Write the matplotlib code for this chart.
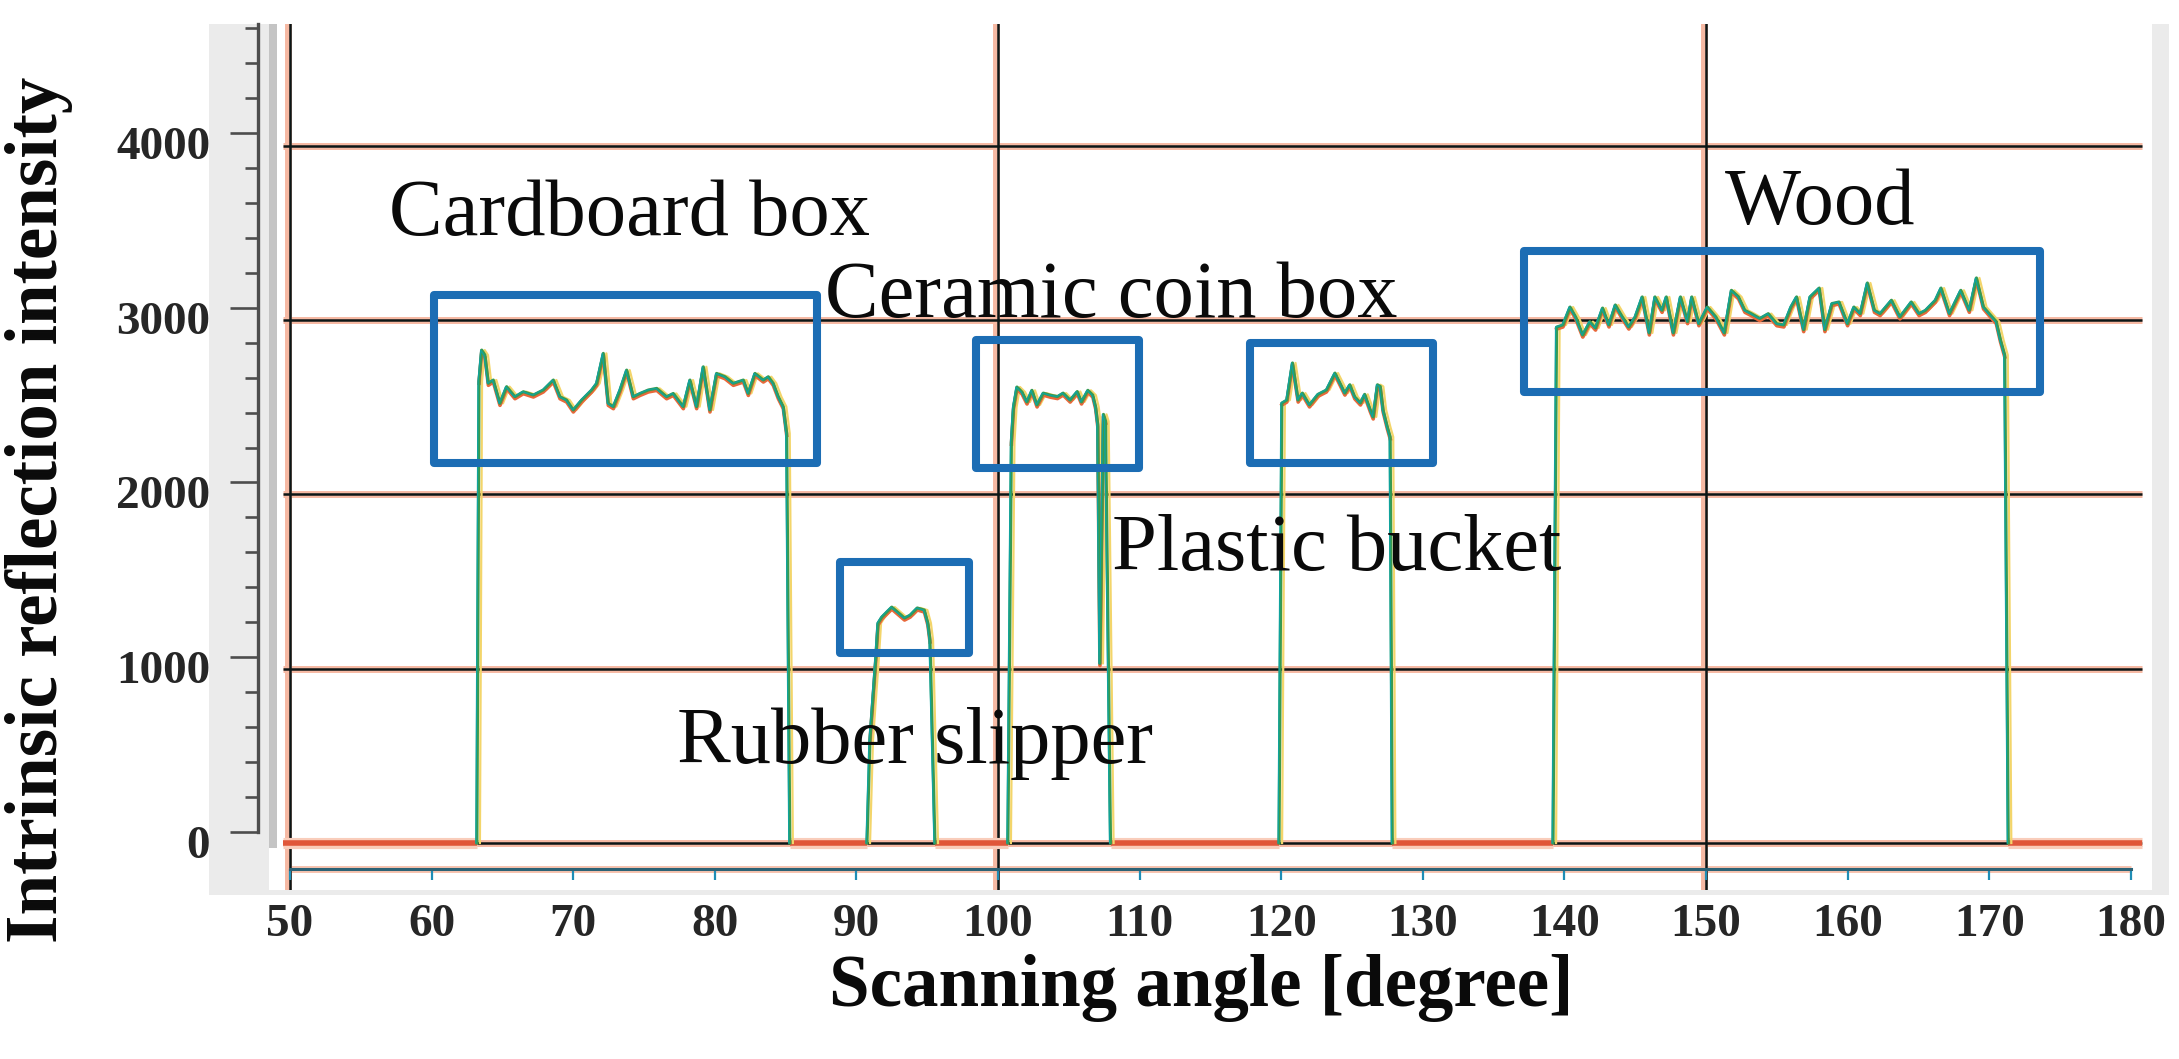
import numpy as np
import matplotlib
matplotlib.use("Agg")
import matplotlib.pyplot as plt
from matplotlib.patches import Rectangle
from matplotlib.transforms import ScaledTranslation
from matplotlib.ticker import MultipleLocator

plt.rcParams["font.family"] = ["Liberation Serif", "DejaVu Serif"]

# ---------------- data ----------------
scan_start, scan_end = 49.5, 180.8

cardboard_angle = [63.20, 63.35, 63.54, 63.77, 64.01, 64.36, 64.83, 65.30, 65.89, 66.48,
                   67.19, 67.89, 68.60, 69.07, 69.54, 70.01, 70.60, 71.31, 71.66, 72.13,
                   72.48, 72.84, 73.31, 73.78, 74.25, 74.72, 75.31, 75.90, 76.60, 77.07,
                   77.78, 78.25, 78.72, 79.19, 79.66, 80.13, 80.72, 81.31, 82.02, 82.37,
                   82.84, 83.43, 83.78, 84.13, 84.49, 84.84, 85.08, 85.30]
cardboard_value = [0, 2650, 2829, 2800, 2638, 2657, 2523, 2619, 2561, 2590,
                   2571, 2600, 2657, 2561, 2542, 2485, 2542, 2600, 2638, 2810,
                   2523, 2504, 2600, 2714, 2561, 2580, 2600, 2609, 2561, 2580,
                   2504, 2657, 2504, 2733, 2485, 2695, 2676, 2638, 2657, 2580,
                   2695, 2657, 2676, 2638, 2561, 2504, 2351, 0]

rubber_angle = [90.75, 90.96, 91.38, 91.53, 91.80, 92.20, 92.50, 92.90, 93.40, 93.80,
                94.30, 94.80, 95.05, 95.20, 95.55]
rubber_value = [0, 591, 1067, 1262, 1297, 1330, 1354, 1326, 1291, 1308,
                1349, 1337, 1262, 1165, 0]

ceramic_angle = [100.70, 100.95, 101.10, 101.34, 101.70, 102.05, 102.40, 102.76, 103.20, 103.70,
                 104.20, 104.60, 105.10, 105.60, 105.90, 106.35, 106.70, 106.90, 107.05, 107.20,
                 107.45, 107.60, 107.95]
ceramic_value = [0, 2300, 2502, 2617, 2588, 2531, 2598, 2514, 2582, 2570,
                 2562, 2582, 2542, 2591, 2531, 2598, 2570, 2502, 2400, 1030,
                 2460, 2420, 0]

bucket_angle = [119.85, 120.05, 120.40, 120.80, 121.20, 121.50, 122.00, 122.60, 123.20, 123.80,
                124.15, 124.50, 124.85, 125.20, 125.60, 125.90, 126.30, 126.50, 126.80, 127.00,
                127.20, 127.50, 127.70, 127.85]
bucket_value = [0, 2525, 2542, 2755, 2542, 2582, 2514, 2575, 2600, 2697,
                2640, 2582, 2630, 2560, 2525, 2575, 2485, 2445, 2630, 2620,
                2485, 2387, 2330, 0]

wood_angle = [139.20, 139.45, 139.90, 140.40, 140.80, 141.30, 141.80, 142.20, 142.70, 143.15,
              143.60, 144.10, 144.55, 145.00, 145.50, 146.00, 146.40, 146.90, 147.20, 147.70,
              148.20, 148.70, 149.00, 149.50, 150.10, 150.70, 151.30, 151.80, 152.30, 152.75,
              153.20, 153.80, 154.40, 155.00, 155.50, 156.00, 156.40, 156.90, 157.35, 158.00,
              158.40, 158.90, 159.40, 160.00, 160.45, 160.90, 161.40, 161.90, 162.30, 163.10,
              163.70, 164.50, 165.05, 165.50, 166.20, 166.60, 167.20, 168.00, 168.60, 169.10,
              169.60, 170.00, 170.50, 170.80, 171.10, 171.35]
wood_value = [0, 2961, 2973, 3076, 3019, 2915, 2992, 2955, 3070, 2973,
              3088, 3019, 2961, 3019, 3134, 2927, 3134, 3057, 3134, 2927,
              3134, 2992, 3134, 2980, 3076, 3019, 2927, 3172, 3134, 3057,
              3038, 3010, 3038, 2980, 2973, 3076, 3134, 2946, 3134, 3185,
              2946, 3096, 3105, 2980, 3076, 3038, 3214, 3057, 3038, 3115,
              3019, 3105, 3038, 3057, 3115, 3185, 3038, 3172, 3057, 3243,
              3076, 3038, 2992, 2887, 2800, 0]

x_ticks = [50, 60, 70, 80, 90, 100, 110, 120, 130, 140, 150, 160, 170, 180]
y_ticks = [0, 1000, 2000, 3000, 4000]
v_grid = [50, 100, 150]

object_names = ["Cardboard box", "Ceramic coin box", "Wood", "Plastic bucket", "Rubber slipper"]
name_angle = [56.99, 87.78, 151.34, 108.05, 77.33]
name_value = [3489, 3019, 3552, 1567, 459]

box_angle_lo = [60.17, 88.84, 98.45, 117.80, 137.15]
box_angle_hi = [87.22, 97.95, 109.96, 130.72, 173.59]
box_value_lo = [2181, 1090, 2152, 2181, 2588]
box_value_hi = [3145, 1613, 2887, 2869, 3395]

# ---------------- figure layout (pixels) ----------------
W, H = 2179, 1059
fig = plt.figure(figsize=(W / 100, H / 100), dpi=100)
fig.patch.set_facecolor("white")


def fx(px):
    return px / W


def fy(py):
    return 1 - py / H


# grey panel behind everything
fig.add_artist(Rectangle((fx(209), fy(895)), (2169 - 209) / W, (895 - 24) / H,
                         transform=fig.transFigure, facecolor="#ebebeb",
                         edgecolor="none", zorder=-1))

ax = fig.add_axes([fx(269), fy(890), (2152 - 269) / W, (890 - 24) / H])
ax.set_xlim(48.517, 181.497)
ax.set_ylim(-269.7, 4700.1)
ax.set_facecolor("white")
for s in ["left", "right", "top"]:
    ax.spines[s].set_visible(False)
ax.set_yticks([])

# bottom axis (slider-like)
ax.spines["bottom"].set_position(("data", -149))
ax.spines["bottom"].set_bounds(x_ticks[0], x_ticks[-1])
ax.spines["bottom"].set_color("#2b6275")
ax.spines["bottom"].set_linewidth(2.2)
ax.spines["bottom"].set_zorder(6)
ax.hlines([-149], x_ticks[0], x_ticks[-1], color="#f7c3af", lw=5, zorder=0.5)
ax.set_xticks(x_ticks)
ax.tick_params(axis="x", length=8, width=1.6, color="#1f8db5", pad=17,
               labelsize=34, labelcolor="#262626")
for t in ax.get_xticklabels():
    t.set_fontweight("bold")

# grid lines
ax.hlines(y_ticks, scan_start, scan_end, color="#f6b9a3", lw=5.0, zorder=1)
ax.hlines(y_ticks, scan_start, scan_end, color="#0c1616", lw=1.8, zorder=1.2)
halo_shift = ScaledTranslation(-0.02, 0, fig.dpi_scale_trans)
for g in v_grid:
    halo = ax.axvline(g, color="#f6b9a3", lw=5.0, zorder=1)
    halo.set_transform(halo.get_transform() + halo_shift)
    ax.axvline(g, color="#0c1616", lw=1.8, zorder=1.2)

# ---------------- traces ----------------
angles = [scan_start] + cardboard_angle + rubber_angle + ceramic_angle + bucket_angle + wood_angle + [scan_end]
values = [0] + cardboard_value + rubber_value + ceramic_value + bucket_value + wood_value + [0]
angles = np.array(angles)
values = np.array(values, dtype=float)
zero_only = np.where(values == 0, 0.0, np.nan)

ax.plot(angles, zero_only, color="#f9cdbb", lw=8, zorder=2, solid_capstyle="butt")
ax.plot(angles, zero_only, color="#e0573a", lw=4.0, zorder=2.2, solid_capstyle="butt")

objects = [(cardboard_angle, cardboard_value), (rubber_angle, rubber_value),
           (ceramic_angle, ceramic_value), (bucket_angle, bucket_value),
           (wood_angle, wood_value)]
off_right = ax.transData + ScaledTranslation(0.03, 0, fig.dpi_scale_trans)
off_down = ax.transData + ScaledTranslation(0.0, -0.02, fig.dpi_scale_trans)
off_left = ax.transData + ScaledTranslation(-0.01, 0.0, fig.dpi_scale_trans)
for a, v in objects:
    ax.plot(a, v, color="#f3d56a", lw=1.6, zorder=2.4, transform=off_right)
    ax.plot(a[1:-1], v[1:-1], color="#e8683a", lw=2.6, zorder=2.5, transform=off_down)
    ax.plot(a, v, color="#3b9a4c", lw=2.2, zorder=2.7)
    ax.plot(a, v, color="#10a39c", lw=1.0, zorder=2.8, transform=off_left)

# ---------------- annotations ----------------
for name, a, v in zip(object_names, name_angle, name_value):
    ax.text(a, v, name, fontsize=58, ha="left", va="baseline", color="#0a0a0a", zorder=7)

for a0, a1, v0, v1 in zip(box_angle_lo, box_angle_hi, box_value_lo, box_value_hi):
    ax.add_patch(Rectangle((a0, v0), a1 - a0, v1 - v0, fill=False,
                           edgecolor="#1c6db4", lw=5.8, joinstyle="round", zorder=6))

# ---------------- left (offset) y axis ----------------
axl = fig.add_axes([fx(258), fy(848), 11 / W, (848 - 24) / H])
axl.set_ylim(-91.6, 4623.7)
axl.patch.set_visible(False)
for s in ["right", "top", "bottom"]:
    axl.spines[s].set_visible(False)
axl.spines["left"].set_bounds(0, 4623.7)
axl.spines["left"].set_color("#4d4d4d")
axl.spines["left"].set_linewidth(2.4)
axl.set_xticks([])
axl.set_yticks(y_ticks)
axl.yaxis.set_minor_locator(MultipleLocator(200))
axl.tick_params(axis="y", which="major", length=20, width=1.9, color="#4d4d4d",
                pad=14.4, labelsize=34, labelcolor="#262626")
axl.tick_params(axis="y", which="minor", length=9.4, width=1.9, color="#4d4d4d")
shift = ScaledTranslation(0, -0.10, fig.dpi_scale_trans)
for lab in axl.get_yticklabels():
    lab.set_fontweight("bold")
    lab.set_transform(lab.get_transform() + shift)

# thin grey strip between the axis and the plot area
fig.add_artist(Rectangle((fx(269), fy(848)), 8 / W, (848 - 24) / H,
                         transform=fig.transFigure, facecolor="#c4c4c4",
                         edgecolor="none", zorder=5))

# ---------------- axis titles ----------------
fig.text(fx(1201), fy(988), "Scanning angle [degree]", ha="center", va="center",
         fontsize=52.5, fontweight="bold", color="#0a0a0a")
fig.text(fx(39), fy(510), "Intrinsic reflection intensity", ha="center", va="center",
         rotation=90, fontsize=52.5, fontweight="bold", color="#0a0a0a")

fig.savefig("out.png", dpi=100)
